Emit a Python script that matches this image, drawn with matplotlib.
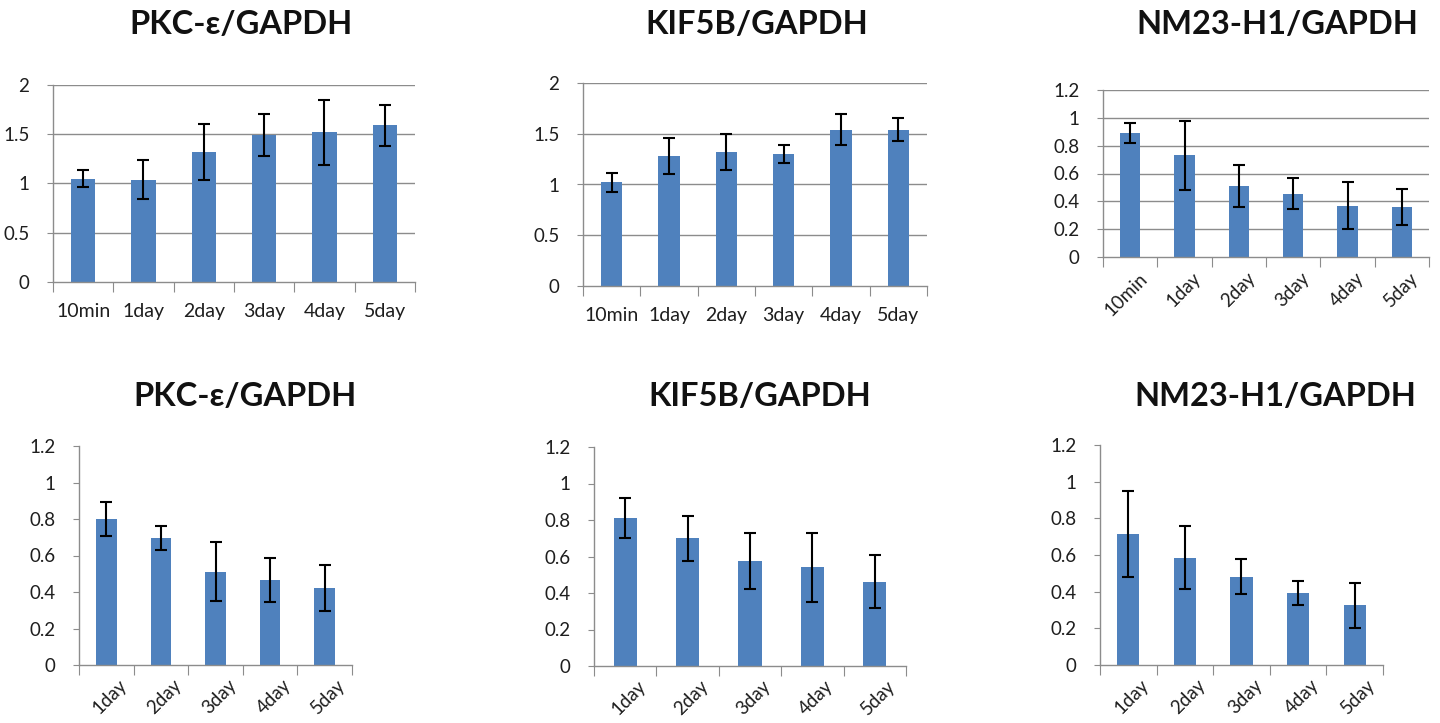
import matplotlib
matplotlib.use("Agg")
import matplotlib.pyplot as plt
import matplotlib.transforms as mtransforms
import numpy as np

plt.rcParams['font.family'] = ['Lato', 'DejaVu Sans']

# ---- data ----
cats_top = ["10min", "1day", "2day", "3day", "4day", "5day"]
cats_bot = ["1day", "2day", "3day", "4day", "5day"]

pkc_top = [1.05, 1.04, 1.32, 1.49, 1.52, 1.59]
pkc_top_err = [0.09, 0.20, 0.285, 0.215, 0.33, 0.205]
kif_top = [1.02, 1.28, 1.32, 1.30, 1.54, 1.54]
kif_top_err = [0.095, 0.175, 0.175, 0.09, 0.15, 0.115]
nm_top = [0.89, 0.73, 0.51, 0.455, 0.37, 0.36]
nm_top_err = [0.072, 0.25, 0.148, 0.11, 0.167, 0.132]

pkc_bot = [0.80, 0.695, 0.51, 0.466, 0.422]
pkc_bot_err = [0.094, 0.066, 0.162, 0.123, 0.127]
kif_bot = [0.813, 0.70, 0.577, 0.542, 0.462]
kif_bot_err = [0.11, 0.122, 0.154, 0.189, 0.145]
nm_bot = [0.716, 0.586, 0.482, 0.395, 0.326]
nm_bot_err = [0.234, 0.174, 0.096, 0.065, 0.122]

titles = ["PKC-ε/GAPDH", "KIF5B/GAPDH", "NM23-H1/GAPDH"]

BAR = "#4F81BD"
GRID = "#8C8C8C"
TXT = "#1E1E1E"

W, H = 1440, 723
fig = plt.figure(figsize=(14.4, 7.23), dpi=100)


def px_axes(x0, y0, x1, y1):
    return fig.add_axes([x0 / W, 1 - y1 / H, (x1 - x0) / W, (y1 - y0) / H])


def draw(ax, cats, vals, errs, ymax, step, grid, rot, width, rdx=10, rpad=8):
    x = np.arange(len(cats))
    ax.bar(x, vals, width=width, color=BAR, zorder=2)
    ax.errorbar(x, vals, yerr=errs, fmt='none', ecolor='black', elinewidth=1.5,
                capsize=4, capthick=1.5, zorder=3)
    ax.set_xlim(-0.5, len(cats) - 0.5)
    ax.set_ylim(0, ymax)
    ticks = np.round(np.arange(0, ymax + 1e-9, step), 2)
    ax.set_yticks(ticks)
    ax.set_yticklabels([("%g" % t) for t in ticks], fontsize=13.5, color=TXT)
    if grid:
        for t in ticks[1:]:
            ax.axhline(t, color=GRID, lw=1.0, zorder=1)
    for s in ["top", "right"]:
        ax.spines[s].set_visible(False)
    for s in ["left", "bottom"]:
        ax.spines[s].set_color(GRID)
        ax.spines[s].set_linewidth(1.0)
    ax.tick_params(axis='y', length=4, color=GRID, pad=13)
    # category boundary ticks
    ax.set_xticks(np.arange(-0.5, len(cats) + 0.5, 1.0))
    ax.set_xticklabels([])
    ax.tick_params(axis='x', which='major', length=7, color=GRID)
    ax.set_xticks(x, minor=True)
    ax.tick_params(axis='x', which='minor', length=0)
    if rot:
        labs = ax.set_xticklabels(cats, minor=True, rotation=45, ha='right', va='top',
                                  rotation_mode='anchor', fontsize=13.5, color=TXT)
        ax.tick_params(axis='x', which='minor', pad=rpad)
        off = mtransforms.ScaledTranslation(rdx / 100, 0, fig.dpi_scale_trans)
        for lb in labs:
            lb.set_transform(lb.get_transform() + off)
    else:
        ax.set_xticklabels(cats, minor=True, fontsize=14, color=TXT)
        ax.tick_params(axis='x', which='minor', pad=15)


# top row
ax1 = px_axes(53, 85, 415, 282)
draw(ax1, cats_top, pkc_top, pkc_top_err, 2, 0.5, True, False, 0.4)
ax2 = px_axes(583, 83, 927, 286)
draw(ax2, cats_top, kif_top, kif_top_err, 2, 0.5, True, False, 0.37)
ax3 = px_axes(1103, 90, 1429, 257)
draw(ax3, cats_top, nm_top, nm_top_err, 1.2, 0.2, True, True, 0.38, rdx=8, rpad=9)

# bottom row
ax4 = px_axes(79, 446, 352, 665)
draw(ax4, cats_bot, pkc_bot, pkc_bot_err, 1.2, 0.2, False, True, 0.38, rdx=12, rpad=8)
ax5 = px_axes(594, 447, 906, 666)
draw(ax5, cats_bot, kif_bot, kif_bot_err, 1.2, 0.2, False, True, 0.37, rdx=12, rpad=8)
ax6 = px_axes(1100, 445, 1383, 665)
draw(ax6, cats_bot, nm_bot, nm_bot_err, 1.2, 0.2, False, True, 0.39, rdx=12, rpad=8)

# titles
title_pos = [(241, 25), (757, 25), (1277, 25), (245, 396), (760, 396), (1275, 396)]
for i, (tx, ty) in enumerate(title_pos):
    fig.text(tx / W, 1 - ty / H, titles[i % 3], ha='center', va='center',
             fontsize=23.5, fontweight='bold', color='#111111')

fig.savefig("out.png", dpi=100, facecolor='white')
